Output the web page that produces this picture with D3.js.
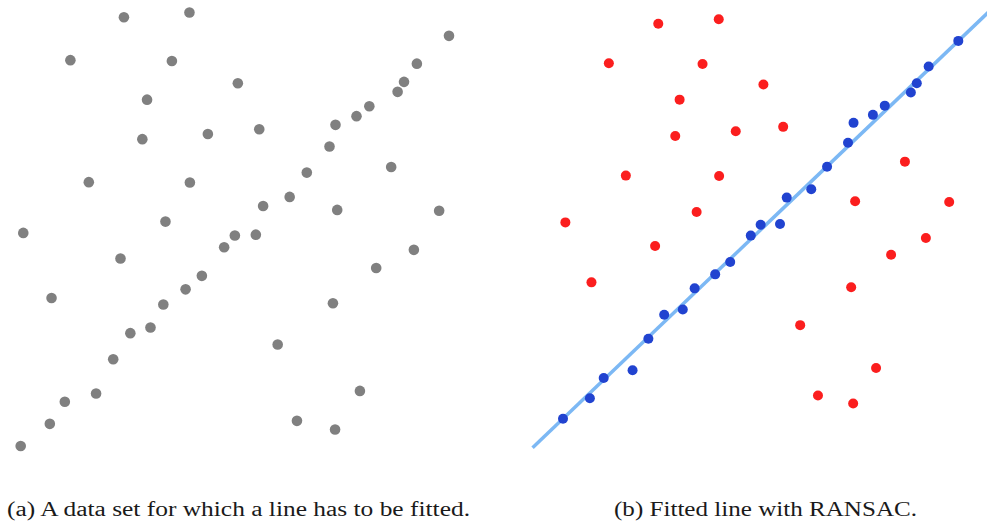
<!DOCTYPE html>
<html>
<head>
    <title>RANSAC</title>
    <script src="https://cdn.jsdelivr.net/npm/d3@7"></script>
    <style>
        body { margin: 0; background: #fff; }
    </style>
</head>
<body>
    <svg width="987" height="522" id="mainsvg"></svg>
    <script>
        // data points (same set in both panels)
        const xs = [2.41, 3.94, 1.16, 3.53, 5.07, 2.95, 4.37, 2.84, 1.59, 3.95,
                    3.38, 10.00, 9.25, 8.95, 8.80, 8.14, 7.84, 7.35, 5.57, 7.21,
                    8.65, 6.68, 6.28, 5.66, 7.39, 9.77, 0.06, 5.00, 4.75, 2.33,
                    4.23, 3.85, 0.72, 3.33, 3.03, 2.56, 2.16, 1.76, 1.03, 0.68,
                    0.00, 5.49, 9.18, 8.30, 7.29, 6.00, 7.92, 6.45, 7.34];
        const ys = [9.88, 9.99, 8.89, 8.87, 8.36, 7.98, 7.19, 7.07, 6.08, 6.07,
                    5.17, 9.45, 8.81, 8.39, 8.16, 7.83, 7.60, 7.40, 7.30, 6.90,
                    6.43, 6.30, 5.74, 5.53, 5.44, 5.42, 4.91, 4.85, 4.58, 4.32,
                    3.92, 3.61, 3.41, 3.26, 2.73, 2.60, 2.00, 1.21, 1.02, 0.51,
                    0.00, 4.87, 4.52, 4.10, 3.29, 2.34, 1.27, 0.58, 0.38];
        // 1 = inlier found by RANSAC
        const inlier = [0, 0, 0, 0, 0, 0, 0, 0, 0, 0,
                        0, 1, 1, 1, 1, 1, 1, 1, 0, 1,
                        0, 1, 1, 1, 0, 0, 0, 1, 1, 0,
                        1, 1, 0, 1, 1, 1, 1, 1, 1, 1,
                        1, 1, 0, 0, 0, 0, 0, 0, 0];
        // fitted line y = slope * x + intercept
        const slope = 0.945;
        const intercept = 0.0;
        const lineX = [-0.77, 10.8];

        const captions = ['(a) A data set for which a line has to be fitted.',
                          '(b) Fitted line with RANSAC.'];

        const points = xs.map((x, i) => ({ x: x, y: ys[i], inlier: inlier[i] }));

        const svg = d3.select('#mainsvg');

        // left panel
        const xLeft = d3.scaleLinear().domain([0, 10]).range([20.7, 449]);
        const yLeft = d3.scaleLinear().domain([0, 10]).range([446, 12]);

        svg.append('g').selectAll('circle').data(points).enter().append('circle')
            .attr('cx', d => xLeft(d.x))
            .attr('cy', d => yLeft(d.y))
            .attr('r', 5.3)
            .attr('fill', '#808080');

        // right panel
        const xRight = d3.scaleLinear().domain([0, 10]).range([563, 958.3]);
        const yRight = d3.scaleLinear().domain([0, 10]).range([418.7, 18.9]);

        const gR = svg.append('g');
        gR.append('path')
            .datum(lineX.map(x => ({ x: x, y: slope * x + intercept })))
            .attr('fill', 'none')
            .attr('stroke', '#7cb8f4')
            .attr('stroke-width', 3.5)
            .attr('d', d3.line().x(d => xRight(d.x)).y(d => yRight(d.y)));

        gR.selectAll('circle').data(points).enter().append('circle')
            .attr('cx', d => xRight(d.x))
            .attr('cy', d => yRight(d.y))
            .attr('r', 5)
            .attr('fill', d => d.inlier ? '#2143d0' : '#fb1e1e');

        // captions
        const capPos = [{ x: 7, w: 463 }, { x: 614, w: 303 }];
        svg.selectAll('.caption').data(captions).enter().append('text')
            .attr('class', 'caption')
            .attr('x', (d, i) => capPos[i].x)
            .attr('y', 515.5)
            .attr('textLength', (d, i) => capPos[i].w)
            .attr('lengthAdjust', 'spacingAndGlyphs')
            .attr('font-family', '"Liberation Serif", "DejaVu Serif", serif')
            .attr('font-size', 20)
            .attr('fill', '#1a1a1a')
            .text(d => d);
    </script>
</body>
</html>
